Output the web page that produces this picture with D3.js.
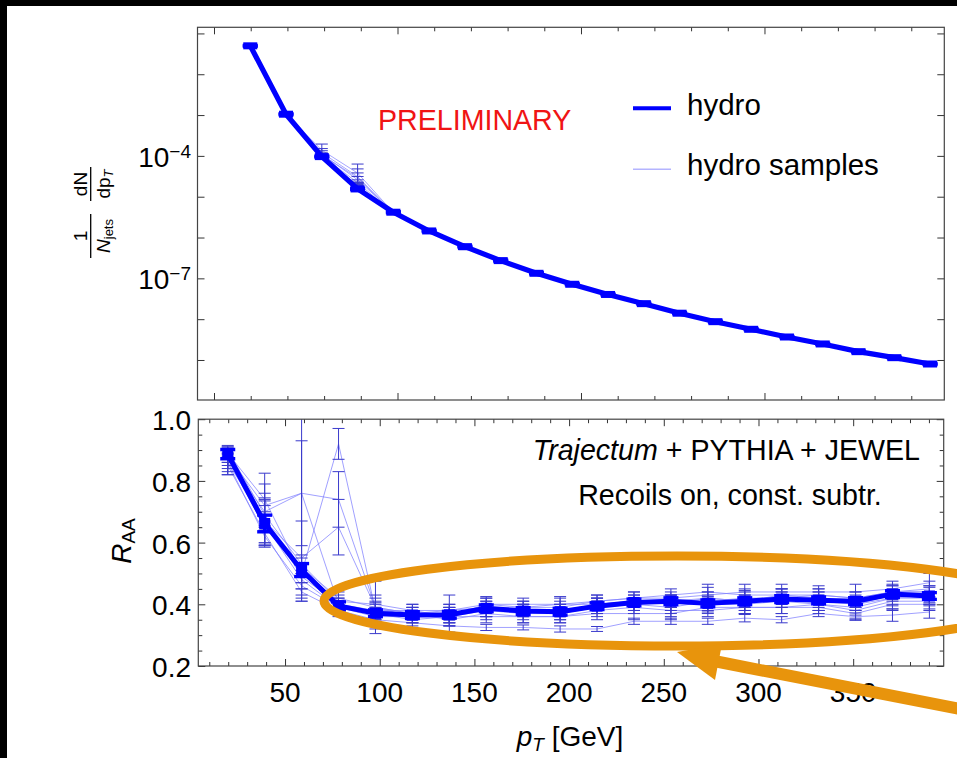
<!DOCTYPE html>
<html><head><meta charset="utf-8">
<script src="https://cdn.jsdelivr.net/npm/d3@7"></script>
<style>
body{margin:0;background:#000;}
svg{display:block;}
text{font-family:"Liberation Sans", Arial, Helvetica, sans-serif; fill:#000;}
</style>
</head><body>
<svg id="c" width="957" height="758"></svg>
<script>
// ---------------- DATA ----------------
const pT = [19.75, 39.25, 58.75, 78.25, 97.75, 117.25, 136.75, 156.25, 175.75, 195.25,
            214.75, 234.25, 253.75, 273.25, 292.75, 312.25, 331.75, 351.25, 370.75, 390.25];

// upper panel: 1/Njets dN/dpT
const hydroSpec = [4.97e-2, 1.05e-3, 9.6e-5, 1.55e-5, 4.17e-6, 1.45e-6, 5.98e-7, 2.72e-7, 1.33e-7, 7.16e-8,
                   4.03e-8, 2.40e-8, 1.40e-8, 8.69e-9, 5.65e-9, 3.66e-9, 2.47e-9, 1.60e-9, 1.14e-9, 7.98e-10];
const hydroSpecErrDex = [0.012,0.012,0.012,0.012,0.012,0.012,0.012,0.012,0.012,0.012,
                         0.012,0.012,0.012,0.012,0.012,0.012,0.012,0.012,0.012,0.012];
const specSampleA = [4.9e-2, 1.02e-3, 1.38e-4, 3.8e-5, 4.1e-6, 1.42e-6, 5.8e-7, 2.65e-7, 1.30e-7, 7.0e-8, 3.95e-8, 2.35e-8, 1.37e-8, 8.5e-9, 5.5e-9, 3.58e-9, 2.42e-9, 1.56e-9, 1.11e-9, 7.8e-10];
const specSampleB = [4.9e-2, 1.03e-3, 1.2e-4, 3.1e-5, 4.0e-6, 1.40e-6, 5.8e-7, 2.64e-7, 1.29e-7, 6.95e-8, 3.9e-8, 2.33e-8, 1.36e-8, 8.45e-9, 5.5e-9, 3.55e-9, 2.4e-9, 1.55e-9, 1.1e-9, 7.7e-10];
const specSampleC = [4.9e-2, 1.04e-3, 1.1e-4, 2.6e-5, 4.1e-6, 1.43e-6, 5.9e-7, 2.68e-7, 1.31e-7, 7.05e-8, 3.97e-8, 2.37e-8, 1.38e-8, 8.55e-9, 5.55e-9, 3.6e-9, 2.43e-9, 1.57e-9, 1.12e-9, 7.85e-10];
const specSampleD = [4.9e-2, 1.03e-3, 1.0e-4, 2.2e-5, 4.0e-6, 1.41e-6, 5.85e-7, 2.66e-7, 1.3e-7, 7.0e-8, 3.93e-8, 2.34e-8, 1.37e-8, 8.5e-9, 5.52e-9, 3.57e-9, 2.41e-9, 1.56e-9, 1.11e-9, 7.75e-10];
const specSampleE = [4.9e-2, 1.02e-3, 9.8e-5, 1.9e-5, 4.05e-6, 1.42e-6, 5.8e-7, 2.66e-7, 1.3e-7, 7.0e-8, 3.94e-8, 2.35e-8, 1.37e-8, 8.5e-9, 5.52e-9, 3.58e-9, 2.42e-9, 1.56e-9, 1.11e-9, 7.8e-10];
const specSampleF = [4.9e-2, 1.04e-3, 1.25e-4, 1.7e-5, 4.1e-6, 1.43e-6, 5.9e-7, 2.68e-7, 1.31e-7, 7.05e-8, 3.96e-8, 2.36e-8, 1.38e-8, 8.55e-9, 5.55e-9, 3.6e-9, 2.43e-9, 1.57e-9, 1.12e-9, 7.85e-10];
const specSampleG = [4.9e-2, 1.03e-3, 1.05e-4, 2.9e-5, 4.0e-6, 1.41e-6, 5.8e-7, 2.65e-7, 1.29e-7, 6.98e-8, 3.92e-8, 2.34e-8, 1.36e-8, 8.47e-9, 5.5e-9, 3.56e-9, 2.4e-9, 1.55e-9, 1.1e-9, 7.75e-10];
const specSampleH = [4.9e-2, 1.04e-3, 9.7e-5, 1.6e-5, 4.15e-6, 1.44e-6, 5.95e-7, 2.70e-7, 1.32e-7, 7.1e-8, 4.0e-8, 2.38e-8, 1.39e-8, 8.6e-9, 5.6e-9, 3.63e-9, 2.45e-9, 1.58e-9, 1.13e-9, 7.9e-10];
const specErrA = [0.01,0.01,0.15,0.22,0.01,0.01,0.06,0.01,0.01,0.01,0.01,0.01,0.01,0.01,0.01,0.01,0.01,0.01,0.01,0.01];
const specErrB = [0.01,0.01,0.10,0.19,0.01,0.01,0.01,0.01,0.01,0.01,0.01,0.01,0.01,0.01,0.01,0.01,0.01,0.01,0.01,0.01];
const specErrC = [0.01,0.01,0.03,0.08,0.01,0.01,0.01,0.01,0.01,0.01,0.01,0.01,0.01,0.01,0.01,0.01,0.01,0.01,0.01,0.01];
const specErrD = [0.01,0.01,0.03,0.07,0.01,0.01,0.01,0.01,0.01,0.01,0.01,0.01,0.01,0.01,0.01,0.01,0.01,0.01,0.01,0.01];
const specErrE = [0.01,0.01,0.02,0.05,0.01,0.01,0.01,0.01,0.01,0.01,0.01,0.01,0.01,0.01,0.01,0.01,0.01,0.01,0.01,0.01];
const specErrF = [0.01,0.01,0.03,0.05,0.01,0.01,0.01,0.01,0.01,0.01,0.01,0.01,0.01,0.01,0.01,0.01,0.01,0.01,0.01,0.01];
const specErrG = [0.01,0.01,0.03,0.12,0.01,0.01,0.01,0.01,0.01,0.01,0.01,0.01,0.01,0.01,0.01,0.01,0.01,0.01,0.01,0.01];
const specErrH = [0.01,0.01,0.02,0.04,0.01,0.01,0.01,0.01,0.01,0.01,0.01,0.01,0.01,0.01,0.01,0.01,0.01,0.01,0.01,0.01];

// lower panel: R_AA
const hydroRAA = [0.887, 0.662, 0.511, 0.395, 0.371, 0.365, 0.366, 0.387, 0.378, 0.376,
                  0.394, 0.406, 0.410, 0.403, 0.410, 0.417, 0.413, 0.410, 0.433, 0.427];
const hydroRAAErr = [0.015, 0.027, 0.021, 0.013, 0.011, 0.011, 0.011, 0.011, 0.011, 0.011,
                     0.011, 0.011, 0.011, 0.011, 0.011, 0.011, 0.011, 0.011, 0.011, 0.011];
const raaS1 = [0.89, 0.74, 0.50, 0.92, 0.38, 0.37, 0.38, 0.40, 0.40, 0.40, 0.41, 0.42, 0.42, 0.43, 0.44, 0.44, 0.44, 0.44, 0.45, 0.47];
const raaS2 = [0.87, 0.70, 0.76, 0.40, 0.37, 0.36, 0.36, 0.38, 0.37, 0.37, 0.39, 0.40, 0.41, 0.40, 0.40, 0.41, 0.40, 0.39, 0.42, 0.43];
const raaS3 = [0.88, 0.72, 0.76, 0.74, 0.39, 0.36, 0.37, 0.39, 0.38, 0.38, 0.40, 0.41, 0.40, 0.42, 0.41, 0.43, 0.42, 0.41, 0.44, 0.45];
const raaS4 = [0.86, 0.67, 0.55, 0.65, 0.39, 0.37, 0.37, 0.38, 0.38, 0.38, 0.39, 0.40, 0.41, 0.40, 0.41, 0.42, 0.41, 0.40, 0.43, 0.42];
const raaS5 = [0.85, 0.63, 0.44, 0.38, 0.35, 0.34, 0.33, 0.325, 0.325, 0.32, 0.32, 0.345, 0.345, 0.345, 0.355, 0.35, 0.37, 0.36, 0.365, 0.375];
const raaS6 = [0.90, 0.69, 0.53, 0.41, 0.40, 0.38, 0.36, 0.40, 0.39, 0.39, 0.41, 0.42, 0.43, 0.44, 0.43, 0.43, 0.43, 0.42, 0.44, 0.44];
const raaS7 = [0.88, 0.66, 0.48, 0.39, 0.36, 0.36, 0.37, 0.39, 0.39, 0.40, 0.40, 0.40, 0.39, 0.41, 0.42, 0.42, 0.42, 0.40, 0.42, 0.42];
const raaS8 = [0.87, 0.65, 0.52, 0.42, 0.39, 0.37, 0.35, 0.37, 0.36, 0.36, 0.38, 0.39, 0.38, 0.38, 0.39, 0.39, 0.40, 0.38, 0.41, 0.41];
const raaS9 = [0.89, 0.68, 0.49, 0.40, 0.38, 0.38, 0.38, 0.39, 0.38, 0.37, 0.40, 0.41, 0.41, 0.42, 0.41, 0.42, 0.43, 0.42, 0.44, 0.44];
const raaS10 = [0.86, 0.62, 0.46, 0.39, 0.37, 0.35, 0.36, 0.36, 0.36, 0.36, 0.37, 0.37, 0.37, 0.39, 0.39, 0.39, 0.39, 0.37, 0.40, 0.40];
const raaE1 = [0.02, 0.085, 0.03, 0.05, 0.025, 0.02, 0.02, 0.025, 0.02, 0.025, 0.02, 0.02, 0.02, 0.025, 0.025, 0.025, 0.02, 0.025, 0.025, 0.03];
const raaE2 = [0.03, 0.06, 0.35, 0.02, 0.02, 0.02, 0.02, 0.02, 0.02, 0.02, 0.02, 0.02, 0.02, 0.025, 0.02, 0.02, 0.02, 0.025, 0.025, 0.025];
const raaE3 = [0.02, 0.07, 0.17, 0.09, 0.03, 0.02, 0.02, 0.02, 0.02, 0.02, 0.02, 0.02, 0.02, 0.02, 0.02, 0.02, 0.02, 0.02, 0.025, 0.025];
const raaE4 = [0.04, 0.075, 0.12, 0.09, 0.02, 0.02, 0.03, 0.02, 0.02, 0.02, 0.02, 0.02, 0.02, 0.02, 0.02, 0.02, 0.02, 0.02, 0.02, 0.02];
const raaE5 = [0.03, 0.04, 0.03, 0.02, 0.03, 0.02, 0.02, 0.01, 0.008, 0.01, 0.008, 0.01, 0.01, 0.01, 0.012, 0.01, 0.01, 0.012, 0.02, 0.02];
const raaE6 = [0.015, 0.05, 0.03, 0.02, 0.03, 0.02, 0.03, 0.02, 0.02, 0.02, 0.02, 0.02, 0.02, 0.025, 0.02, 0.02, 0.02, 0.02, 0.02, 0.02];
const raaE7 = [0.02, 0.075, 0.03, 0.02, 0.02, 0.02, 0.02, 0.03, 0.02, 0.02, 0.02, 0.02, 0.02, 0.02, 0.025, 0.02, 0.02, 0.02, 0.02, 0.02];
const raaE8 = [0.02, 0.05, 0.03, 0.02, 0.085, 0.02, 0.02, 0.02, 0.02, 0.02, 0.02, 0.02, 0.02, 0.02, 0.02, 0.02, 0.02, 0.025, 0.025, 0.025];
const raaE9 = [0.02, 0.04, 0.04, 0.02, 0.02, 0.02, 0.05, 0.02, 0.02, 0.02, 0.02, 0.02, 0.02, 0.02, 0.03, 0.03, 0.02, 0.02, 0.02, 0.02];
const raaE10 = [0.03, 0.03, 0.04, 0.02, 0.02, 0.02, 0.02, 0.02, 0.02, 0.02, 0.02, 0.02, 0.02, 0.02, 0.02, 0.02, 0.02, 0.02, 0.02, 0.02];

// ticks
const topXMajor = [0, 100, 200, 300];
const topXMinor = [20, 40, 60, 80, 120, 140, 160, 180, 220, 240, 260, 280, 320, 340, 360, 380];
const topYTicks = [1e-1, 1e-2, 1e-3, 1e-4, 1e-5, 1e-6, 1e-7, 1e-8, 1e-9];
const topYLabels = [{v: 1e-4, base: "10", exp: "\u22124"}, {v: 1e-7, base: "10", exp: "\u22127"}];
const botXMajor = [50, 100, 150, 200, 250, 300, 350];
const botXMinor = [10, 20, 30, 40, 60, 70, 80, 90, 110, 120, 130, 140, 160, 170, 180, 190, 210, 220, 230, 240,
                   260, 270, 280, 290, 310, 320, 330, 340, 360, 370, 380, 390];
const botYMajor = [0.2, 0.4, 0.6, 0.8, 1.0];
const botYMinor = [0.25, 0.3, 0.35, 0.45, 0.5, 0.55, 0.65, 0.7, 0.75, 0.85, 0.9, 0.95];
const botYLabels = ["0.2", "0.4", "0.6", "0.8", "1.0"];

// ---------------- DRAW ----------------
const specSamples = [
  {v: specSampleA, e: specErrA}, {v: specSampleB, e: specErrB}, {v: specSampleC, e: specErrC}, {v: specSampleD, e: specErrD},
  {v: specSampleE, e: specErrE}, {v: specSampleF, e: specErrF}, {v: specSampleG, e: specErrG}, {v: specSampleH, e: specErrH}];
const raaSamples = [
  {v: raaS1, e: raaE1}, {v: raaS2, e: raaE2}, {v: raaS3, e: raaE3}, {v: raaS4, e: raaE4}, {v: raaS5, e: raaE5},
  {v: raaS6, e: raaE6}, {v: raaS7, e: raaE7}, {v: raaS8, e: raaE8}, {v: raaS9, e: raaE9}, {v: raaS10, e: raaE10}];

const svg = d3.select("#c");
svg.append("rect").attr("width", 957).attr("height", 758).attr("fill", "#000");
svg.append("rect").attr("x", 7).attr("y", 6).attr("width", 950).attr("height", 752).attr("fill", "#fff");

const T = {l: 197.5, r: 944.3, t: 27.3, b: 400};
const B = {l: 198.3, r: 943.7, t: 419.2, b: 666};

const xT = d3.scaleLinear().domain([-9, 398]).range([T.l, T.r]);
const yT = d3.scaleLog().domain([Math.pow(10, -9.98), Math.pow(10, -0.85)]).range([T.b, T.t]);
const xB = d3.scaleLinear().domain([4.2, 397.8]).range([B.l, B.r]);
const yB = d3.scaleLinear().domain([0.2, 1.0]).range([B.b, B.t]);

const defs = svg.append("defs");
defs.append("clipPath").attr("id", "clipT").append("rect")
  .attr("x", T.l).attr("y", T.t).attr("width", T.r - T.l).attr("height", T.b - T.t);
defs.append("clipPath").attr("id", "clipB").append("rect")
  .attr("x", B.l).attr("y", B.t).attr("width", B.r - B.l).attr("height", B.b - B.t);

const MAIN = "#0000ff", SLINE = "#8080ff", SERR = "#3a3acc";

function tickGroup(axis, tx, ty) {
  const g = svg.append("g").attr("transform", `translate(${tx},${ty})`).call(axis);
  g.select(".domain").remove();
  g.selectAll("text").remove();
  g.selectAll("line").attr("stroke", "#333").attr("stroke-width", 1);
  return g;
}

function frameTicks(P, xs, ys, xMaj, xMin, yMaj, yMin, majLen, minLen) {
  tickGroup(d3.axisBottom(xs).tickValues(xMaj).tickSize(-majLen), 0, P.b);
  tickGroup(d3.axisBottom(xs).tickValues(xMin).tickSize(-minLen), 0, P.b);
  tickGroup(d3.axisTop(xs).tickValues(xMaj).tickSize(-majLen), 0, P.t);
  tickGroup(d3.axisTop(xs).tickValues(xMin).tickSize(-minLen), 0, P.t);
  tickGroup(d3.axisLeft(ys).tickValues(yMaj).tickSize(-majLen), P.l, 0);
  tickGroup(d3.axisRight(ys).tickValues(yMaj).tickSize(-majLen), P.r, 0);
  if (yMin.length) {
    tickGroup(d3.axisLeft(ys).tickValues(yMin).tickSize(-minLen), P.l, 0);
    tickGroup(d3.axisRight(ys).tickValues(yMin).tickSize(-minLen), P.r, 0);
  }
  svg.append("rect").attr("x", P.l).attr("y", P.t).attr("width", P.r - P.l).attr("height", P.b - P.t)
    .attr("fill", "none").attr("stroke", "#444").attr("stroke-width", 1.2);
}

function errBars(g, xs, ys, vals, lo, hi, color, sw, capW) {
  vals.forEach((v, i) => {
    const x = xs(pT[i]);
    const y1 = ys(lo(v, i)), y2 = ys(hi(v, i));
    g.append("line").attr("x1", x).attr("x2", x).attr("y1", y1).attr("y2", y2)
      .attr("stroke", color).attr("stroke-width", sw);
    [y1, y2].forEach(yy => g.append("line").attr("x1", x - capW / 2).attr("x2", x + capW / 2)
      .attr("y1", yy).attr("y2", yy).attr("stroke", color).attr("stroke-width", sw));
  });
}

// ---- upper panel ----
const gT = svg.append("g").attr("clip-path", "url(#clipT)");
const lineT = d3.line().x((d, i) => xT(pT[i])).y(d => yT(d));
specSamples.forEach(s => {
  gT.append("path").attr("d", lineT(s.v)).attr("fill", "none")
    .attr("stroke", SLINE).attr("stroke-width", 1).attr("stroke-opacity", 0.7);
});
specSamples.forEach(s => {
  errBars(gT, xT, yT, s.v, (v, i) => v / Math.pow(10, s.e[i]), (v, i) => v * Math.pow(10, s.e[i]), SERR, 1, 12);
});
gT.append("path").attr("d", lineT(hydroSpec)).attr("fill", "none")
  .attr("stroke", MAIN).attr("stroke-width", 5.2).attr("stroke-linejoin", "round");
errBars(gT, xT, yT, hydroSpec, (v, i) => v / Math.pow(10, hydroSpecErrDex[i]),
        (v, i) => v * Math.pow(10, hydroSpecErrDex[i]), MAIN, 3.4, 15);
gT.selectAll("rect.mk").data(hydroSpec).enter().append("rect").attr("class", "mk")
  .attr("x", (d, i) => xT(pT[i]) - 7).attr("y", d => yT(d) - 3.5).attr("width", 14).attr("height", 7).attr("fill", MAIN);

frameTicks(T, xT, yT, topXMajor, topXMinor, topYTicks, [], 7, 4);

topYLabels.forEach(L => {
  const t = svg.append("text").attr("x", 191).attr("y", yT(L.v) + 11).attr("text-anchor", "end")
    .style("font-size", "28px");
  t.append("tspan").text(L.base);
  t.append("tspan").attr("dy", -9).style("font-size", "19px").text(L.exp);
});

// y title (fraction)
const yt = svg.append("g").attr("transform", "translate(90.7,213) rotate(-90)");
yt.append("line").attr("x1", -45).attr("x2", -1).attr("y1", 0).attr("y2", 0).attr("stroke", "#000").attr("stroke-width", 1.3);
yt.append("line").attr("x1", 12).attr("x2", 46).attr("y1", 0).attr("y2", 0).attr("stroke", "#000").attr("stroke-width", 1.3);
yt.append("text").attr("x", -23).attr("y", -4).attr("text-anchor", "middle").style("font-size", "19px").text("1");
const nj = yt.append("text").attr("x", -23).attr("y", 19.5).attr("text-anchor", "middle").style("font-size", "19px");
nj.append("tspan").style("font-style", "italic").text("N");
nj.append("tspan").attr("dy", 3).style("font-size", "13px").text("jets");
yt.append("text").attr("x", 29).attr("y", -4).attr("text-anchor", "middle").style("font-size", "19px").text("dN");
const dp = yt.append("text").attr("x", 29).attr("y", 19.5).attr("text-anchor", "middle").style("font-size", "19px");
dp.append("tspan").text("dp");
dp.append("tspan").attr("dy", 3).style("font-size", "13px").style("font-style", "italic").text("T");

// PRELIMINARY + legend
svg.append("text").attr("x", 378).attr("y", 130).style("font-size", "28.6px").style("fill", "#f01414").text("PRELIMINARY");
svg.append("line").attr("x1", 633).attr("x2", 671).attr("y1", 108.3).attr("y2", 108.3).attr("stroke", MAIN).attr("stroke-width", 4);
svg.append("text").attr("x", 687).attr("y", 115).style("font-size", "29.5px").text("hydro");
svg.append("line").attr("x1", 633).attr("x2", 671).attr("y1", 169.3).attr("y2", 169.3).attr("stroke", "#b4b4ff").attr("stroke-width", 1.5);
svg.append("text").attr("x", 687).attr("y", 175).style("font-size", "29.5px").text("hydro samples");

// ---- lower panel ----
const gB = svg.append("g").attr("clip-path", "url(#clipB)");
const lineB = d3.line().x((d, i) => xB(pT[i])).y(d => yB(d));
raaSamples.forEach(s => {
  gB.append("path").attr("d", lineB(s.v)).attr("fill", "none")
    .attr("stroke", SLINE).attr("stroke-width", 1).attr("stroke-opacity", 0.75);
});
raaSamples.forEach(s => {
  errBars(gB, xB, yB, s.v, (v, i) => v - s.e[i], (v, i) => v + s.e[i], SERR, 1, 12);
});
gB.append("path").attr("d", lineB(hydroRAA)).attr("fill", "none")
  .attr("stroke", MAIN).attr("stroke-width", 5).attr("stroke-linejoin", "round");
errBars(gB, xB, yB, hydroRAA, (v, i) => v - hydroRAAErr[i], (v, i) => v + hydroRAAErr[i], MAIN, 3.4, 15);
gB.selectAll("rect.mk").data(hydroRAA).enter().append("rect").attr("class", "mk")
  .attr("x", (d, i) => xB(pT[i]) - 5.5).attr("y", d => yB(d) - 5.5).attr("width", 11).attr("height", 11).attr("fill", MAIN);

frameTicks(B, xB, yB, botXMajor, botXMinor, botYMajor, botYMinor, 7, 4);

botYMajor.forEach((v, i) => {
  svg.append("text").attr("x", 191).attr("y", yB(v) + 11).attr("text-anchor", "end")
    .style("font-size", "28px").text(botYLabels[i]);
});
botXMajor.forEach(v => {
  svg.append("text").attr("x", xB(v)).attr("y", 701.5).attr("text-anchor", "middle")
    .style("font-size", "28px").text(v);
});

const rt = svg.append("text").attr("transform", "translate(131,541) rotate(-90)").attr("text-anchor", "middle").style("font-size", "28px");
rt.append("tspan").style("font-style", "italic").text("R");
rt.append("tspan").attr("dy", 4).style("font-size", "19px").text("AA");

const xt = svg.append("text").attr("x", 570).attr("y", 746).attr("text-anchor", "middle").style("font-size", "28px");
xt.append("tspan").style("font-style", "italic").text("p");
xt.append("tspan").attr("dy", 5).style("font-size", "19px").style("font-style", "italic").text("T");
xt.append("tspan").attr("dy", -5).text(" [GeV]");

const a1 = svg.append("text").attr("x", 920).attr("y", 460).attr("text-anchor", "end").style("font-size", "28.6px");
a1.append("tspan").style("font-style", "italic").text("Trajectum");
a1.append("tspan").text(" + PYTHIA + JEWEL");
svg.append("text").attr("x", 730).attr("y", 505).attr("text-anchor", "middle").style("font-size", "28.6px").text("Recoils on, const. subtr.");

// ---- orange annotation ----
const ORANGE = "#e8940c";
svg.append("ellipse").attr("cx", 677).attr("cy", 601).attr("rx", 353).attr("ry", 45)
  .attr("fill", "none").attr("stroke", ORANGE).attr("stroke-width", 9);
svg.append("line").attr("x1", 970).attr("y1", 711).attr("x2", 714).attr("y2", 661)
  .attr("stroke", ORANGE).attr("stroke-width", 12);
svg.append("polygon").attr("points", "677,652 715,680 722,644").attr("fill", ORANGE);
</script>
</body></html>
